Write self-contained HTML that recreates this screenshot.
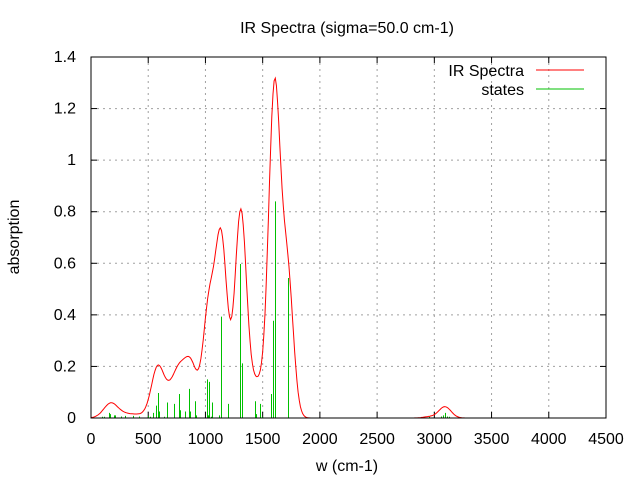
<!DOCTYPE html>
<html><head><meta charset="utf-8"><style>
html,body{margin:0;padding:0;background:#fff;}
svg text{font-family:"Liberation Sans",sans-serif;font-size:16px;fill:#000;}
</style></head><body>
<svg id="chart" width="640" height="480" xmlns="http://www.w3.org/2000/svg">
<rect width="640" height="480" fill="#fff"/>
<text x="347" y="33" text-anchor="middle" font-size="15">IR Spectra (sigma=50.0 cm-1)</text>
<g id="grid"></g>
<g id="ticks"></g>
<g id="states"></g>
<polyline id="spectrum" fill="none" stroke="#ff0000" stroke-width="1"/>
<rect x="91" y="57" width="515" height="361" fill="none" stroke="#000" stroke-width="1"/>
<text x="347" y="471" text-anchor="middle" font-size="15">w (cm-1)</text>
<text x="19" y="237" text-anchor="middle" font-size="15" transform="rotate(-90 19 237)">absorption</text>
<g>
<text x="524" y="76" text-anchor="end" font-size="15">IR Spectra</text>
<line x1="536" y1="70" x2="584" y2="70" stroke="#ff0000"/>
<text x="524" y="95" text-anchor="end" font-size="15">states</text>
<line x1="536" y1="89" x2="584" y2="89" stroke="#00c000"/>
</g>
</svg>
<script>
const stateFreqs = [93,116,160,162,203,205,212,265,300,367,420,494,516,545,570,588,590,640,666,728,771,780,824,859,861,905,914,1010,1016,1022,1033,1035,1045,1060,1121,1135,1138,1200,1305,1322,1429,1440,1474,1490,1570,1593,1611,1718,2955,3060,3076,3096,3110,3125];
const stateInts  = [0.005,0.005,0.02,0.015,0.005,0.01,0.01,0.006,0.008,0.008,0.006,0.008,0.005,0.02,0.048,0.097,0.025,0.005,0.06,0.055,0.093,0.03,0.025,0.113,0.025,0.065,0.01,0.005,0.15,0.01,0.14,0.07,0.005,0.06,0.01,0.25,0.393,0.055,0.597,0.212,0.065,0.015,0.055,0.005,0.093,0.377,0.84,0.543,0.005,0.006,0.01,0.02,0.006,0.005];
const sigma = 50.0;
const xTicks = [0,500,1000,1500,2000,2500,3000,3500,4000,4500];
const yTicks = [0,0.2,0.4,0.6,0.8,1,1.2,1.4];
const yTickLabels = ["0","0.2","0.4","0.6","0.8","1","1.2","1.4"];

const L=91,R=606,T=57,B=418,XMAX=4500,YMAX=1.4;
const sx=v=>L+v/XMAX*(R-L);
const sy=v=>B-v/YMAX*(B-T);
const NS="http://www.w3.org/2000/svg";
function mk(tag,attrs,parent){const e=document.createElementNS(NS,tag);for(const k in attrs)e.setAttribute(k,attrs[k]);parent.appendChild(e);return e;}
const grid=document.getElementById('grid'),ticks=document.getElementById('ticks');
xTicks.forEach((v,i)=>{
  const x=sx(v);
  if(i>0&&i<xTicks.length-1){const g=mk('line',{x1:x,y1:T,x2:x,y2:B,stroke:'#a0a0a0','stroke-dasharray':'2,4'},grid);
  
  }
  const t1=mk('line',{x1:x,y1:B,x2:x,y2:B-6,stroke:'#000'},ticks);
  
  
  const t2=mk('line',{x1:x,y1:T,x2:x,y2:T+6,stroke:'#000'},ticks);
  
  
  const lb=mk('text',{x:x,y:444,'text-anchor':'middle','font-size':'15'},ticks);lb.textContent=String(v);
  
  
});
yTicks.forEach((v,i)=>{
  const y=sy(v);
  if(i>0&&i<yTicks.length-1){const g=mk('line',{x1:L,y1:y,x2:R,y2:y,stroke:'#a0a0a0','stroke-dasharray':'2,4'},grid);
  
  }
  const t1=mk('line',{x1:L,y1:y,x2:L+6,y2:y,stroke:'#000'},ticks);
  
  
  const t2=mk('line',{x1:R,y1:y,x2:R-6,y2:y,stroke:'#000'},ticks);
  
  
  const lb=mk('text',{x:76,y:y+5,'text-anchor':'end','font-size':'15'},ticks);lb.textContent=yTickLabels[i];
  
  
});
const sg=document.getElementById('states');
stateFreqs.forEach((f,i)=>{
  const x=Math.round(sx(f))+0.5;
  const ln=mk('line',{x1:x,y1:B,x2:x,y2:sy(stateInts[i]),stroke:'#00c000','stroke-width':1},sg);
  
  
});
const pts=[];
for(let w=0;w<=XMAX;w+=10){
  let s=0;
  for(let i=0;i<stateFreqs.length;i++){const d=w-stateFreqs[i];s+=stateInts[i]*Math.exp(-d*d/(2*sigma*sigma));}
  if(s>0.0005||w<=2000||(w>2800&&w<3300))pts.push(sx(w).toFixed(1)+','+sy(s).toFixed(1));
}
document.getElementById('spectrum').setAttribute('points',pts.join(' '));
</script>
</body></html>
